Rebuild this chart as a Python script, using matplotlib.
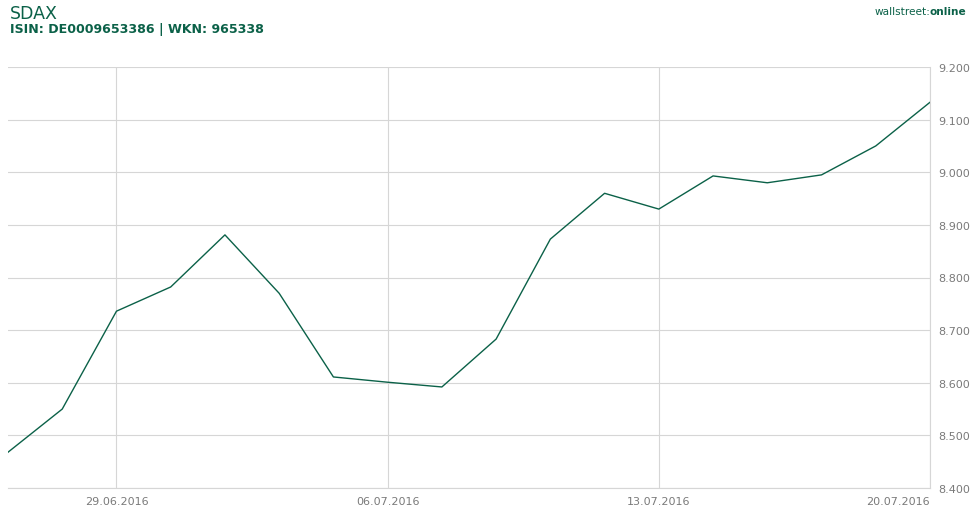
import matplotlib.pyplot as plt

# SDAX daily closes, 27.06.2016 - 20.07.2016
dates = ['27.06.2016', '28.06.2016', '29.06.2016', '30.06.2016', '01.07.2016',
         '04.07.2016', '05.07.2016', '06.07.2016', '07.07.2016', '08.07.2016',
         '11.07.2016', '12.07.2016', '13.07.2016', '14.07.2016', '15.07.2016',
         '18.07.2016', '19.07.2016', '20.07.2016']
values = [8468, 8550, 8736, 8782, 8881, 8770, 8611, 8601, 8592, 8683,
          8873, 8960, 8930, 8993, 8980, 8995, 9050, 9133]
yticks = [8400, 8500, 8600, 8700, 8800, 8900, 9000, 9100, 9200]
xtick_idx = [2, 7, 12, 17]

green = '#0b6148'
grid = '#d6d6d6'

fig = plt.figure(figsize=(9.76, 5.10), dpi=100)
ax = fig.add_axes([8/976, 1 - 489/510, (930 - 8)/976, (489 - 68)/510])

x = list(range(len(values)))
ax.plot(x, values, color=green, lw=1.0)

ax.set_xlim(0, len(values) - 1)
ax.set_ylim(8400, 9200)

ax.set_yticks(yticks)
ax.set_yticklabels(['{:,}'.format(v).replace(',', '.') for v in yticks])
ax.yaxis.tick_right()
ax.set_xticks(xtick_idx)
ax.set_xticklabels([dates[i] for i in xtick_idx])
ax.tick_params(length=0, labelsize=8, colors='#7a7a7a')
ax.tick_params(axis='y', pad=6)
ax.tick_params(axis='x', pad=6)
ax.get_xticklabels()[-1].set_ha('right')

ax.grid(True, color=grid, lw=0.8)
for s in ['top', 'left']:
    ax.spines[s].set_visible(False)
for s in ['right', 'bottom']:
    ax.spines[s].set_color(grid)
    ax.spines[s].set_linewidth(0.8)

fig.text(10/976, 1 - 14/510, 'SDAX', fontsize=12.5, color=green, va='center')
fig.text(10/976, 1 - 30/510, 'ISIN: DE0009653386 | WKN: 965338', fontsize=9.1,
         color=green, fontweight='bold', va='center')
fig.text(930/976, 1 - 12/510, 'wallstreet:', fontsize=7.6, color=green,
         va='center', ha='right')
fig.text(930/976, 1 - 12/510, 'online', fontsize=7.6, color=green,
         va='center', ha='left', fontweight='bold')

fig.savefig('out.png', dpi=100)
